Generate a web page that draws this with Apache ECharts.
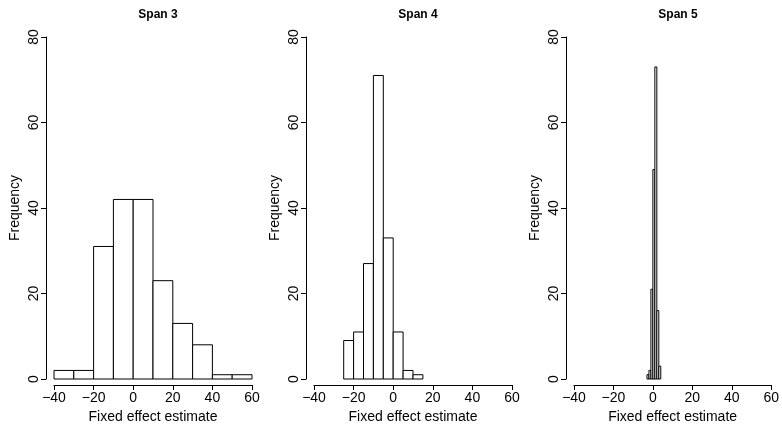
<!DOCTYPE html>
<html>
<head>
<meta charset="utf-8">
<script src="https://cdn.jsdelivr.net/npm/echarts@6/dist/echarts.min.js"></script>
<style>html,body{margin:0;padding:0;background:#fff}#c{width:782px;height:429px}</style>
</head>
<body>
<div id="c"></div>
<script>
// Panel titles
const titles = ["Span 3", "Span 4", "Span 5"];
// Histogram bin edges (lower bounds) and bin widths
const span3Starts = [-40, -30, -20, -10, 0, 10, 20, 30, 40, 50];
const span3Width = 10;
const span3Counts = [2, 2, 31, 42, 42, 23, 13, 8, 1, 1];
const span4Starts = [-25, -20, -15, -10, -5, 0, 5, 10];
const span4Width = 5;
const span4Counts = [9, 11, 27, 71, 33, 11, 2, 1];
const span5Starts = [-3, -2, -1, 0, 1, 2, 3];
const span5Width = 1;
const span5Counts = [1, 2, 21, 49, 73, 16, 3];
// Axis ticks
const xTicks = [-40, -20, 0, 20, 40, 60];
const yTicks = [0, 20, 40, 60, 80];
const xLabel = "Fixed effect estimate";
const yLabel = "Frequency";

const panels = [
  {starts: span3Starts, width: span3Width, counts: span3Counts},
  {starts: span4Starts, width: span4Width, counts: span4Counts},
  {starts: span5Starts, width: span5Width, counts: span5Counts}
];
const lefts = [54, 314, 574];
const font = "Liberation Sans, Arial, Helvetica, sans-serif";

const chart = echarts.init(document.getElementById('c'), null, {renderer: 'canvas'});
const option = {
  animation: false,
  backgroundColor: '#fff',
  title: titles.map((t, i) => ({
    text: t, left: lefts[i] + 99, top: 4, textAlign: 'center',
    textStyle: {fontFamily: font, fontSize: 12, fontWeight: 'bold', color: '#000'}
  })),
  grid: lefts.map(l => ({left: l, width: 198, top: 37, height: 342})),
  xAxis: lefts.map((l, i) => ({
    type: 'value', gridIndex: i, min: xTicks[0], max: xTicks[xTicks.length - 1], interval: 20,
    offset: 6, position: 'bottom',
    splitLine: {show: false},
    axisLine: {show: true, onZero: false, lineStyle: {color: '#000', width: 1}},
    axisTick: {show: true, length: 5, lineStyle: {color: '#000'}},
    axisLabel: {fontFamily: font, fontSize: 14, color: '#000', margin: 6,
      formatter: v => String(v).replace('-', '\u2212')},
    name: xLabel, nameLocation: 'middle', nameGap: 25,
    nameTextStyle: {fontFamily: font, fontSize: 14, color: '#000'}
  })),
  yAxis: lefts.map((l, i) => ({
    type: 'value', gridIndex: i, min: yTicks[0], max: yTicks[yTicks.length - 1], interval: 20,
    offset: 8, position: 'left',
    splitLine: {show: false},
    axisLine: {show: true, onZero: false, lineStyle: {color: '#000', width: 1}},
    axisTick: {show: true, length: 5, lineStyle: {color: '#000'}},
    axisLabel: {fontFamily: font, fontSize: 14, color: '#000', rotate: 90, margin: 5},
    name: yLabel, nameLocation: 'middle', nameGap: 24,
    nameTextStyle: {fontFamily: font, fontSize: 14, color: '#000'}
  })),
  series: panels.map((p, i) => ({
    type: 'custom', xAxisIndex: i, yAxisIndex: i,
    data: p.starts.map((s, j) => [s, s + p.width, p.counts[j]]),
    encode: {x: [0, 1], y: 2},
    renderItem: function (params, api) {
      const a = api.coord([api.value(0), 0]);
      const b = api.coord([api.value(1), api.value(2)]);
      return {
        type: 'rect',
        shape: {x: a[0], y: b[1], width: b[0] - a[0], height: a[1] - b[1]},
        style: {fill: '#fff', stroke: '#000', lineWidth: 1}
      };
    }
  }))
};
chart.setOption(option);
</script>
</body>
</html>
